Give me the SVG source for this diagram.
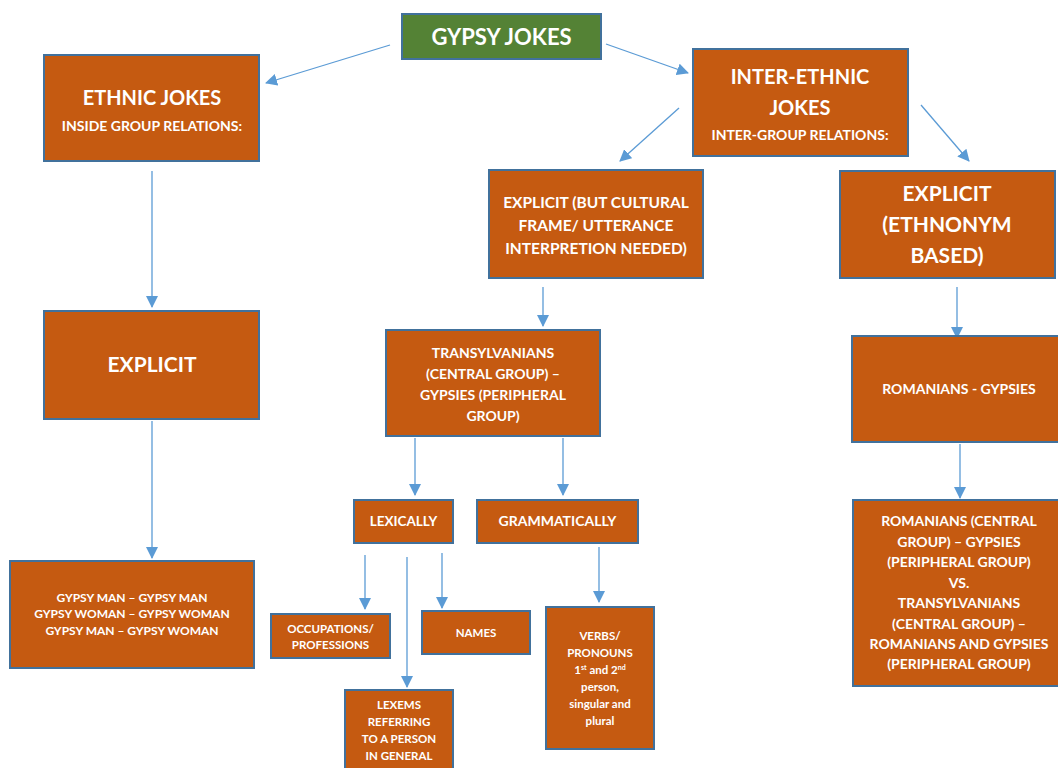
<svg xmlns="http://www.w3.org/2000/svg" width="1058" height="768" viewBox="0 0 1058 768">
<style>
.n{fill:#C55A11;stroke:#41719C;stroke-width:2}
.g{fill:#548235;stroke:#41719C;stroke-width:2}
text{font-family:Lato,"Liberation Sans",sans-serif;font-weight:bold;fill:#fff;text-anchor:middle}
.c line{stroke:#5B9BD5;stroke-width:1.3;marker-end:url(#ah)}
</style>
<defs>
<marker id="ah" markerUnits="userSpaceOnUse" markerWidth="14" markerHeight="12" refX="11" refY="6" orient="auto">
<path d="M0,0 L12,6 L0,12 Z" fill="#5B9BD5"/>
</marker>
</defs>
<rect width="1058" height="768" fill="#fff"/>
<g class="c">
<line x1="390" y1="45" x2="266" y2="83"/>
<line x1="606" y1="44" x2="688" y2="73"/>
<line x1="679" y1="108" x2="620" y2="161"/>
<line x1="921" y1="105" x2="969" y2="161"/>
<line x1="152" y1="171" x2="152" y2="307"/>
<line x1="152" y1="421" x2="152" y2="558"/>
<line x1="543" y1="287" x2="543" y2="326"/>
<line x1="957" y1="287" x2="957" y2="338"/>
<line x1="415" y1="438" x2="415" y2="495"/>
<line x1="563" y1="438" x2="563" y2="495"/>
<line x1="365" y1="555" x2="365" y2="609"/>
<line x1="407" y1="557" x2="407" y2="687"/>
<line x1="442" y1="553" x2="442" y2="608"/>
<line x1="599" y1="547" x2="599" y2="602"/>
<line x1="960" y1="444" x2="960" y2="498"/>
</g>
<g id="gypsy-jokes"><rect class="g" x="402" y="14" width="199" height="45"/><text x="501.5" y="45" font-size="22">GYPSY JOKES</text></g>
<g id="ethnic-jokes"><rect class="n" x="44" y="55" width="215" height="106"/><text x="152" y="105" font-size="20">ETHNIC JOKES</text><text x="152" y="131" font-size="14">INSIDE GROUP RELATIONS:</text></g>
<g id="inter-ethnic"><rect class="n" x="693" y="49" width="215" height="107"/><text x="800" y="84" font-size="20">INTER-ETHNIC</text><text x="800" y="115" font-size="20">JOKES</text><text x="800" y="140" font-size="14">INTER-GROUP RELATIONS:</text></g>
<g id="explicit-cultural"><rect class="n" x="489" y="170" width="214" height="108"/><text x="596" y="208" font-size="15.5">EXPLICIT (BUT CULTURAL</text><text x="596" y="231" font-size="15.5">FRAME/ UTTERANCE</text><text x="596" y="254" font-size="15.5">INTERPRETION NEEDED)</text></g>
<g id="explicit-ethnonym"><rect class="n" x="840" y="171" width="215" height="107"/><text x="947" y="201" font-size="21">EXPLICIT</text><text x="947" y="232" font-size="21">(ETHNONYM</text><text x="947" y="263" font-size="21">BASED)</text></g>
<g id="explicit-left"><rect class="n" x="44" y="311" width="215" height="108"/><text x="152" y="372" font-size="21">EXPLICIT</text></g>
<g id="transylvanians"><rect class="n" x="386" y="330" width="214" height="106"/><text x="493" y="358" font-size="14">TRANSYLVANIANS</text><text x="493" y="379" font-size="14">(CENTRAL GROUP)  –</text><text x="493" y="400" font-size="14">GYPSIES (PERIPHERAL</text><text x="493" y="421" font-size="14">GROUP)</text></g>
<g id="romanians-gypsies"><rect class="n" x="852" y="336" width="210" height="106"/><text x="959" y="394" font-size="14">ROMANIANS - GYPSIES</text></g>
<g id="lexically"><rect class="n" x="354" y="500" width="99" height="43"/><text x="403.5" y="526" font-size="13.5">LEXICALLY</text></g>
<g id="grammatically"><rect class="n" x="477" y="500" width="161" height="43"/><text x="557.5" y="526" font-size="14">GRAMMATICALLY</text></g>
<g id="gypsy-man"><rect class="n" x="10" y="561" width="244" height="107"/><text x="132" y="602" font-size="12">GYPSY MAN – GYPSY MAN</text><text x="132" y="618" font-size="12">GYPSY WOMAN – GYPSY WOMAN</text><text x="132" y="635" font-size="12">GYPSY MAN – GYPSY WOMAN</text></g>
<g id="occupations"><rect class="n" x="271" y="614" width="119" height="44"/><text x="330.5" y="633" font-size="11.5">OCCUPATIONS/</text><text x="330.5" y="649" font-size="11.5">PROFESSIONS</text></g>
<g id="names"><rect class="n" x="422" y="611" width="108" height="43"/><text x="476" y="637" font-size="11.5">NAMES</text></g>
<g id="verbs"><rect class="n" x="546" y="607" width="108" height="142"/><text x="600" y="640" font-size="11.5">VERBS/</text><text x="600" y="657" font-size="11.5">PRONOUNS</text><text x="600" y="674" font-size="11.5">1<tspan font-size="7" dy="-4">st</tspan><tspan dy="4"> and 2</tspan><tspan font-size="7" dy="-4">nd</tspan></text><text x="600" y="691" font-size="11.5">person,</text><text x="600" y="708" font-size="11.5">singular and</text><text x="600" y="725" font-size="11.5">plural</text></g>
<g id="lexems"><rect class="n" x="345" y="690" width="108" height="82"/><text x="399" y="709" font-size="11.5">LEXEMS</text><text x="399" y="726" font-size="11.5">REFERRING</text><text x="399" y="743" font-size="11.5">TO A PERSON</text><text x="399" y="760" font-size="11.5">IN GENERAL</text></g>
<g id="romanians-central"><rect class="n" x="853" y="500" width="209" height="186"/><text x="959" y="526" font-size="14">ROMANIANS (CENTRAL</text><text x="959" y="547" font-size="14">GROUP) – GYPSIES</text><text x="959" y="567" font-size="14">(PERIPHERAL GROUP)</text><text x="959" y="588" font-size="14">VS.</text><text x="959" y="608" font-size="14">TRANSYLVANIANS</text><text x="959" y="629" font-size="14">(CENTRAL GROUP) –</text><text x="959" y="649" font-size="14">ROMANIANS AND GYPSIES</text><text x="959" y="669" font-size="14">(PERIPHERAL GROUP)</text></g>
</svg>
